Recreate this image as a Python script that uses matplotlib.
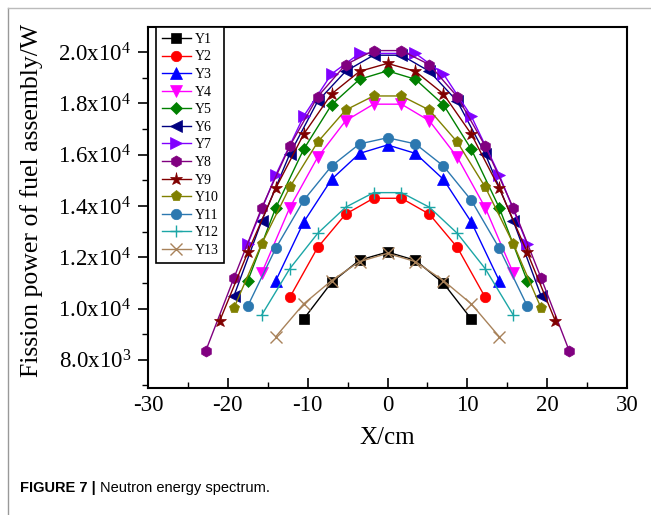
import matplotlib
matplotlib.use("Agg")
import matplotlib.pyplot as plt
from matplotlib.ticker import FixedLocator, MultipleLocator
from matplotlib.lines import Line2D

plt.rcParams['mathtext.fontset'] = 'custom'
plt.rcParams['mathtext.rm'] = 'Liberation Serif'
plt.rcParams['mathtext.it'] = 'Liberation Serif:italic'

# ---- data (x in cm, fission power in W) ----
labels = ["Y1", "Y2", "Y3", "Y4", "Y5", "Y6", "Y7", "Y8", "Y9", "Y10", "Y11", "Y12", "Y13"]

x_Y1 = [-10.5, -7, -3.5, 0, 3.5, 7, 10.5]
y_Y1 = [9590, 11020, 11890, 12200, 11880, 10990, 9590]

x_Y2 = [-12.25, -8.75, -5.25, -1.75, 1.75, 5.25, 8.75, 12.25]
y_Y2 = [10430, 12380, 13680, 14300, 14300, 13680, 12380, 10430]

x_Y3 = [-14, -10.5, -7, -3.5, 0, 3.5, 7, 10.5, 14]
y_Y3 = [11080, 13370, 15040, 16050, 16380, 16050, 15040, 13370, 11080]

x_Y4 = [-15.75, -12.25, -8.75, -5.25, -1.75, 1.75, 5.25, 8.75, 12.25, 15.75]
y_Y4 = [11390, 13930, 15900, 17320, 17970, 17970, 17320, 15900, 13930, 11390]

x_Y5 = [-17.5, -14, -10.5, -7, -3.5, 0, 3.5, 7, 10.5, 14, 17.5]
y_Y5 = [11080, 13930, 16210, 17950, 18940, 19270, 18940, 17950, 16210, 13930, 11080]

x_Y6 = [-19.25, -15.75, -12.25, -8.75, -5.25, -1.75, 1.75, 5.25, 8.75, 12.25, 15.75, 19.25]
y_Y6 = [10480, 13420, 16020, 18080, 19250, 19880, 19880, 19250, 18080, 16020, 13420, 10480]

x_Y7 = [-17.5, -14, -10.5, -7, -3.5, 3.5, 7, 10.5, 14, 17.5]
y_Y7 = [12520, 15210, 17500, 19150, 19950, 19950, 19150, 17500, 15210, 12520]

x_Y8 = [-22.75, -19.25, -15.75, -12.25, -8.75, -5.25, -1.75, 1.75, 5.25, 8.75, 12.25, 15.75, 19.25, 22.75]
y_Y8 = [8360, 11180, 13930, 16330, 18260, 19510, 20060, 20060, 19510, 18260, 16330, 13930, 11180, 8360]

x_Y9 = [-21, -17.5, -14, -10.5, -7, -3.5, 0, 3.5, 7, 10.5, 14, 17.5, 21]
y_Y9 = [9530, 12190, 14690, 16800, 18370, 19250, 19560, 19250, 18370, 16800, 14690, 12190, 9530]

x_Y10 = [-19.25, -15.75, -12.25, -8.75, -5.25, -1.75, 1.75, 5.25, 8.75, 12.25, 15.75, 19.25]
y_Y10 = [10010, 12530, 14730, 16490, 17740, 18290, 18290, 17740, 16490, 14730, 12530, 10010]

x_Y11 = [-17.5, -14, -10.5, -7, -3.5, 0, 3.5, 7, 10.5, 14, 17.5]
y_Y11 = [10100, 12350, 14220, 15560, 16420, 16660, 16420, 15560, 14220, 12350, 10100]

x_Y12 = [-15.75, -12.25, -8.75, -5.25, -1.75, 1.75, 5.25, 8.75, 12.25, 15.75]
y_Y12 = [9750, 11550, 12930, 13950, 14520, 14520, 13950, 12930, 11550, 9750]

x_Y13 = [-14, -10.5, -7, -3.5, 0, 3.5, 7, 10.5, 14]
y_Y13 = [8900, 10180, 11090, 11830, 12150, 11830, 11090, 10180, 8900]

x_series = [x_Y1, x_Y2, x_Y3, x_Y4, x_Y5, x_Y6, x_Y7, x_Y8, x_Y9, x_Y10, x_Y11, x_Y12, x_Y13]
y_series = [y_Y1, y_Y2, y_Y3, y_Y4, y_Y5, y_Y6, y_Y7, y_Y8, y_Y9, y_Y10, y_Y11, y_Y12, y_Y13]

y_ticks = [8000, 10000, 12000, 14000, 16000, 18000, 20000]
y_tick_labels = [r"8.0x10$^{3}$", r"1.0x10$^{4}$", r"1.2x10$^{4}$", r"1.4x10$^{4}$",
                 r"1.6x10$^{4}$", r"1.8x10$^{4}$", r"2.0x10$^{4}$"]
x_ticks = [-30, -20, -10, 0, 10, 20, 30]

# ---- styles ----
colors = ["#000000", "#FF0000", "#0000FF", "#FF00FF", "#008000", "#000080", "#8000FF",
          "#800080", "#800000", "#808000", "#2C78B0", "#1CA6A6", "#A8825A"]
markers = ["s", "o", "^", "v", "D", "<", ">", "h", "*", "p", "o", "+", "x"]
msizes = [7, 7.5, 8, 8, 6.5, 8, 8, 8, 9.5, 8, 7.5, 8.5, 8.5]

fig = plt.figure(figsize=(6.51, 5.15), dpi=100)
ax = fig.add_axes([148 / 651, 1 - 388 / 515, (627 - 148) / 651, (388 - 27) / 515])

handles = []
for xs, ys, c, m, ms, lab in zip(x_series, y_series, colors, markers, msizes, labels):
    h, = ax.plot(xs, ys, color=c, marker=m, markersize=ms, linewidth=1.0,
                 markeredgewidth=1.0 if m in "+x" else 0.5, markeredgecolor=c,
                 label=lab)
    handles.append(h)

ax.set_xlim(-30, 30)
ax.set_ylim(6900, 20980)
ax.xaxis.set_major_locator(FixedLocator(x_ticks))
ax.xaxis.set_minor_locator(MultipleLocator(5))
ax.yaxis.set_major_locator(FixedLocator(y_ticks))
ax.yaxis.set_minor_locator(MultipleLocator(1000))
ax.set_yticklabels(y_tick_labels)
ax.set_xticklabels([str(t) for t in x_ticks])

ax.tick_params(axis="x", which="both", direction="in", top=False)
ax.tick_params(axis="y", which="both", direction="out", right=False)
ax.tick_params(which="major", length=7, width=1.2)
ax.tick_params(which="minor", length=4, width=1.0)
ax.tick_params(axis="both", which="major", labelsize=16.5, pad=5)
for lbl in ax.get_xticklabels() + ax.get_yticklabels():
    lbl.set_fontfamily("Liberation Serif")
for sp in ax.spines.values():
    sp.set_linewidth(1.5)

ax.set_xlabel("X/cm", fontsize=18, fontfamily="Liberation Serif", labelpad=8)
ax.set_ylabel("Fission power of fuel assembly/W", fontsize=18.5,
              fontfamily="Liberation Serif", labelpad=4)
ax.yaxis.set_label_coords(-0.22, 0.52)

leg = ax.legend(handles=handles, loc="upper left",
                bbox_to_anchor=(8 / 479, 1.0), borderaxespad=0,
                prop={"family": "Liberation Serif", "size": 10},
                handlelength=2.1, handletextpad=0.25, labelspacing=0.33,
                borderpad=0.42, fancybox=False, framealpha=1)
leg.get_frame().set_edgecolor("black")
leg.get_frame().set_linewidth(1.2)

# figure border lines and caption
fig.add_artist(Line2D([8 / 651, 8 / 651], [0, 1 - 8 / 515], color="#999999", lw=1,
                      transform=fig.transFigure))
fig.add_artist(Line2D([8 / 651, 1], [1 - 8 / 515, 1 - 8 / 515], color="#BBBBBB", lw=1,
                      transform=fig.transFigure))
cap1 = fig.text(20 / 651, 1 - 488 / 515, "FIGURE 7 |", fontsize=10.5, fontweight="bold",
                fontfamily="Liberation Sans", va="center", ha="left")
fig.canvas.draw()
bb = cap1.get_window_extent()
fig.text((bb.x1 + 4) / 651, 1 - 488 / 515, "Neutron energy spectrum.", fontsize=10.5,
         fontfamily="Liberation Sans", va="center", ha="left")

fig.savefig("out.png", dpi=100)
